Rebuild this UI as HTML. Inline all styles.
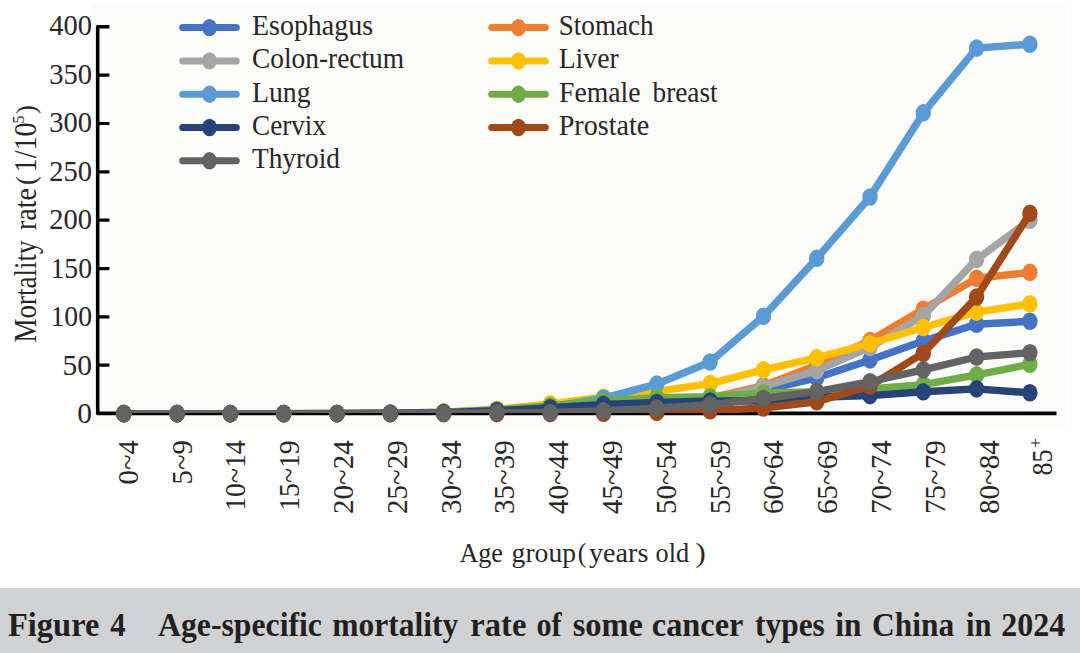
<!DOCTYPE html>
<html><head><meta charset="utf-8"><style>
html,body{margin:0;padding:0;background:#fff;width:1080px;height:653px;overflow:hidden}
svg{display:block}
text{font-family:"Liberation Serif",serif;fill:#2a2627}
</style></head><body>
<svg width="1080" height="653" viewBox="0 0 1080 653">
<rect x="0" y="0" width="1080" height="653" fill="#ffffff"/>
<rect x="91.3" y="4" width="973.7" height="426.7" fill="#fcfcfb"/>
<rect x="0" y="588" width="1080" height="65" fill="#d1d2d4"/>
<clipPath id="pc"><rect x="0" y="0" width="1080" height="413"/></clipPath>
<path d="M109.4 26.8 H97.7 V413.4 H1056.5" fill="none" stroke="#000" stroke-width="3.6" stroke-linejoin="round"/>
<path d="M97.7 365.2 H109.4 M97.7 316.9 H109.4 M97.7 268.6 H109.4 M97.7 220.2 H109.4 M97.7 171.9 H109.4 M97.7 123.5 H109.4 M97.7 75.2 H109.4 " stroke="#000" stroke-width="3.2"/>
<text x="92" y="423.2" font-size="29.5" text-anchor="end">0</text>
<text x="92" y="374.7" font-size="29.5" text-anchor="end">50</text>
<text x="92" y="326.1" font-size="29.5" text-anchor="end" textLength="41.5" lengthAdjust="spacingAndGlyphs">100</text>
<text x="92" y="277.6" font-size="29.5" text-anchor="end" textLength="41.5" lengthAdjust="spacingAndGlyphs">150</text>
<text x="92" y="229.1" font-size="29.5" text-anchor="end" textLength="42.8" lengthAdjust="spacingAndGlyphs">200</text>
<text x="92" y="180.6" font-size="29.5" text-anchor="end" textLength="42.8" lengthAdjust="spacingAndGlyphs">250</text>
<text x="92" y="132.0" font-size="29.5" text-anchor="end" textLength="42.8" lengthAdjust="spacingAndGlyphs">300</text>
<text x="92" y="83.5" font-size="29.5" text-anchor="end" textLength="42.8" lengthAdjust="spacingAndGlyphs">350</text>
<text x="92" y="35.0" font-size="29.5" text-anchor="end" textLength="42.8" lengthAdjust="spacingAndGlyphs">400</text>
<text transform="translate(35.9 342.4) rotate(-90)" font-size="30.5" textLength="102.0" lengthAdjust="spacingAndGlyphs">Mortality</text>
<text transform="translate(35.9 230.0) rotate(-90)" font-size="30.5" textLength="42.0" lengthAdjust="spacingAndGlyphs">rate</text>
<text transform="translate(34.6 185.0) rotate(-90)" font-size="27">(</text>
<text transform="translate(36.3 172.4) rotate(-90)" font-size="31" textLength="50.0" lengthAdjust="spacingAndGlyphs">1/10</text>
<text transform="translate(23.8 123.5) rotate(-90)" font-size="16">5</text>
<text transform="translate(34.6 114.1) rotate(-90)" font-size="27">)</text>
<text transform="translate(137.8 440.3) rotate(-90)" font-size="30" text-anchor="end" textLength="44.1" lengthAdjust="spacingAndGlyphs">0~4</text>
<text transform="translate(191.6 440.3) rotate(-90)" font-size="30" text-anchor="end" textLength="44.1" lengthAdjust="spacingAndGlyphs">5~9</text>
<text transform="translate(245.4 440.3) rotate(-90)" font-size="30" text-anchor="end" textLength="70.5" lengthAdjust="spacingAndGlyphs">10~14</text>
<text transform="translate(299.2 440.3) rotate(-90)" font-size="30" text-anchor="end" textLength="70.5" lengthAdjust="spacingAndGlyphs">15~19</text>
<text transform="translate(353.0 440.3) rotate(-90)" font-size="30" text-anchor="end" textLength="73.6" lengthAdjust="spacingAndGlyphs">20~24</text>
<text transform="translate(406.8 440.3) rotate(-90)" font-size="30" text-anchor="end" textLength="73.6" lengthAdjust="spacingAndGlyphs">25~29</text>
<text transform="translate(460.6 440.3) rotate(-90)" font-size="30" text-anchor="end" textLength="73.6" lengthAdjust="spacingAndGlyphs">30~34</text>
<text transform="translate(514.4 440.3) rotate(-90)" font-size="30" text-anchor="end" textLength="73.6" lengthAdjust="spacingAndGlyphs">35~39</text>
<text transform="translate(568.2 440.3) rotate(-90)" font-size="30" text-anchor="end" textLength="73.6" lengthAdjust="spacingAndGlyphs">40~44</text>
<text transform="translate(622.0 440.3) rotate(-90)" font-size="30" text-anchor="end" textLength="73.6" lengthAdjust="spacingAndGlyphs">45~49</text>
<text transform="translate(675.8 440.3) rotate(-90)" font-size="30" text-anchor="end" textLength="73.6" lengthAdjust="spacingAndGlyphs">50~54</text>
<text transform="translate(729.6 440.3) rotate(-90)" font-size="30" text-anchor="end" textLength="73.6" lengthAdjust="spacingAndGlyphs">55~59</text>
<text transform="translate(783.4 440.3) rotate(-90)" font-size="30" text-anchor="end" textLength="73.6" lengthAdjust="spacingAndGlyphs">60~64</text>
<text transform="translate(837.2 440.3) rotate(-90)" font-size="30" text-anchor="end" textLength="73.6" lengthAdjust="spacingAndGlyphs">65~69</text>
<text transform="translate(891.0 440.3) rotate(-90)" font-size="30" text-anchor="end" textLength="73.6" lengthAdjust="spacingAndGlyphs">70~74</text>
<text transform="translate(944.8 440.3) rotate(-90)" font-size="30" text-anchor="end" textLength="73.6" lengthAdjust="spacingAndGlyphs">75~79</text>
<text transform="translate(998.6 440.3) rotate(-90)" font-size="30" text-anchor="end" textLength="73.6" lengthAdjust="spacingAndGlyphs">80~84</text>
<text transform="translate(1052.4 475.5) rotate(-90)" font-size="29" textLength="26" lengthAdjust="spacingAndGlyphs">85</text>
<text transform="translate(1042.4 448) rotate(-90)" font-size="18">+</text>
<text x="459.4" y="561.5" font-size="27.5" textLength="43.6" lengthAdjust="spacingAndGlyphs">Age</text>
<text x="511.6" y="561.5" font-size="27.5" textLength="64.4" lengthAdjust="spacingAndGlyphs">group</text>
<text x="577.8" y="561.5" font-size="27.5" textLength="8.5" lengthAdjust="spacingAndGlyphs">(</text>
<text x="589.0" y="561.5" font-size="27.5" textLength="59.4" lengthAdjust="spacingAndGlyphs">years</text>
<text x="655.5" y="561.5" font-size="27.5" textLength="33.6" lengthAdjust="spacingAndGlyphs">old</text>
<text x="695.6" y="561.5" font-size="27.5" textLength="10.3" lengthAdjust="spacingAndGlyphs">)</text>
<polyline points="123.8,413.6 177.1,413.6 230.4,413.6 283.7,413.6 337.0,413.6 390.3,413.6 443.6,413.4 496.9,413.1 550.2,412.1 603.5,409.7 656.8,405.9 710.1,402.0 763.4,390.4 816.7,377.8 870.0,359.9 923.3,341.1 976.6,324.2 1029.9,321.3" fill="none" stroke="#4472C4" stroke-width="7.4" stroke-linejoin="round" stroke-linecap="round" clip-path="url(#pc)"/>
<ellipse cx="123.8" cy="413.6" rx="7.7" ry="8.8" fill="#4472C4"/><ellipse cx="177.1" cy="413.6" rx="7.7" ry="8.8" fill="#4472C4"/><ellipse cx="230.4" cy="413.6" rx="7.7" ry="8.8" fill="#4472C4"/><ellipse cx="283.7" cy="413.6" rx="7.7" ry="8.8" fill="#4472C4"/><ellipse cx="337.0" cy="413.6" rx="7.7" ry="8.8" fill="#4472C4"/><ellipse cx="390.3" cy="413.6" rx="7.7" ry="8.8" fill="#4472C4"/><ellipse cx="443.6" cy="413.4" rx="7.7" ry="8.8" fill="#4472C4"/><ellipse cx="496.9" cy="413.1" rx="7.7" ry="8.8" fill="#4472C4"/><ellipse cx="550.2" cy="412.1" rx="7.7" ry="8.8" fill="#4472C4"/><ellipse cx="603.5" cy="409.7" rx="7.7" ry="8.8" fill="#4472C4"/><ellipse cx="656.8" cy="405.9" rx="7.7" ry="8.8" fill="#4472C4"/><ellipse cx="710.1" cy="402.0" rx="7.7" ry="8.8" fill="#4472C4"/><ellipse cx="763.4" cy="390.4" rx="7.7" ry="8.8" fill="#4472C4"/><ellipse cx="816.7" cy="377.8" rx="7.7" ry="8.8" fill="#4472C4"/><ellipse cx="870.0" cy="359.9" rx="7.7" ry="8.8" fill="#4472C4"/><ellipse cx="923.3" cy="341.1" rx="7.7" ry="8.8" fill="#4472C4"/><ellipse cx="976.6" cy="324.2" rx="7.7" ry="8.8" fill="#4472C4"/><ellipse cx="1029.9" cy="321.3" rx="7.7" ry="8.8" fill="#4472C4"/>
<polyline points="123.8,413.6 177.1,413.6 230.4,413.6 283.7,413.6 337.0,413.5 390.3,413.1 443.6,412.6 496.9,411.7 550.2,409.7 603.5,406.8 656.8,403.0 710.1,398.1 763.4,385.6 816.7,365.2 870.0,340.6 923.3,309.2 976.6,278.2 1029.9,272.4" fill="none" stroke="#ED7D31" stroke-width="7.4" stroke-linejoin="round" stroke-linecap="round" clip-path="url(#pc)"/>
<ellipse cx="123.8" cy="413.6" rx="7.7" ry="8.8" fill="#ED7D31"/><ellipse cx="177.1" cy="413.6" rx="7.7" ry="8.8" fill="#ED7D31"/><ellipse cx="230.4" cy="413.6" rx="7.7" ry="8.8" fill="#ED7D31"/><ellipse cx="283.7" cy="413.6" rx="7.7" ry="8.8" fill="#ED7D31"/><ellipse cx="337.0" cy="413.5" rx="7.7" ry="8.8" fill="#ED7D31"/><ellipse cx="390.3" cy="413.1" rx="7.7" ry="8.8" fill="#ED7D31"/><ellipse cx="443.6" cy="412.6" rx="7.7" ry="8.8" fill="#ED7D31"/><ellipse cx="496.9" cy="411.7" rx="7.7" ry="8.8" fill="#ED7D31"/><ellipse cx="550.2" cy="409.7" rx="7.7" ry="8.8" fill="#ED7D31"/><ellipse cx="603.5" cy="406.8" rx="7.7" ry="8.8" fill="#ED7D31"/><ellipse cx="656.8" cy="403.0" rx="7.7" ry="8.8" fill="#ED7D31"/><ellipse cx="710.1" cy="398.1" rx="7.7" ry="8.8" fill="#ED7D31"/><ellipse cx="763.4" cy="385.6" rx="7.7" ry="8.8" fill="#ED7D31"/><ellipse cx="816.7" cy="365.2" rx="7.7" ry="8.8" fill="#ED7D31"/><ellipse cx="870.0" cy="340.6" rx="7.7" ry="8.8" fill="#ED7D31"/><ellipse cx="923.3" cy="309.2" rx="7.7" ry="8.8" fill="#ED7D31"/><ellipse cx="976.6" cy="278.2" rx="7.7" ry="8.8" fill="#ED7D31"/><ellipse cx="1029.9" cy="272.4" rx="7.7" ry="8.8" fill="#ED7D31"/>
<polyline points="123.8,413.6 177.1,413.6 230.4,413.6 283.7,413.6 337.0,413.5 390.3,413.2 443.6,412.6 496.9,411.7 550.2,410.2 603.5,407.8 656.8,404.9 710.1,400.1 763.4,386.5 816.7,370.6 870.0,347.4 923.3,315.9 976.6,259.4 1029.9,220.2" fill="none" stroke="#A5A5A5" stroke-width="7.4" stroke-linejoin="round" stroke-linecap="round" clip-path="url(#pc)"/>
<ellipse cx="123.8" cy="413.6" rx="7.7" ry="8.8" fill="#A5A5A5"/><ellipse cx="177.1" cy="413.6" rx="7.7" ry="8.8" fill="#A5A5A5"/><ellipse cx="230.4" cy="413.6" rx="7.7" ry="8.8" fill="#A5A5A5"/><ellipse cx="283.7" cy="413.6" rx="7.7" ry="8.8" fill="#A5A5A5"/><ellipse cx="337.0" cy="413.5" rx="7.7" ry="8.8" fill="#A5A5A5"/><ellipse cx="390.3" cy="413.2" rx="7.7" ry="8.8" fill="#A5A5A5"/><ellipse cx="443.6" cy="412.6" rx="7.7" ry="8.8" fill="#A5A5A5"/><ellipse cx="496.9" cy="411.7" rx="7.7" ry="8.8" fill="#A5A5A5"/><ellipse cx="550.2" cy="410.2" rx="7.7" ry="8.8" fill="#A5A5A5"/><ellipse cx="603.5" cy="407.8" rx="7.7" ry="8.8" fill="#A5A5A5"/><ellipse cx="656.8" cy="404.9" rx="7.7" ry="8.8" fill="#A5A5A5"/><ellipse cx="710.1" cy="400.1" rx="7.7" ry="8.8" fill="#A5A5A5"/><ellipse cx="763.4" cy="386.5" rx="7.7" ry="8.8" fill="#A5A5A5"/><ellipse cx="816.7" cy="370.6" rx="7.7" ry="8.8" fill="#A5A5A5"/><ellipse cx="870.0" cy="347.4" rx="7.7" ry="8.8" fill="#A5A5A5"/><ellipse cx="923.3" cy="315.9" rx="7.7" ry="8.8" fill="#A5A5A5"/><ellipse cx="976.6" cy="259.4" rx="7.7" ry="8.8" fill="#A5A5A5"/><ellipse cx="1029.9" cy="220.2" rx="7.7" ry="8.8" fill="#A5A5A5"/>
<polyline points="123.8,413.6 177.1,413.6 230.4,413.6 283.7,413.6 337.0,413.5 390.3,413.2 443.6,412.1 496.9,409.5 550.2,403.9 603.5,397.2 656.8,391.4 710.1,383.6 763.4,369.9 816.7,357.9 870.0,343.5 923.3,327.5 976.6,312.1 1029.9,303.8" fill="none" stroke="#FFC000" stroke-width="7.4" stroke-linejoin="round" stroke-linecap="round" clip-path="url(#pc)"/>
<ellipse cx="123.8" cy="413.6" rx="7.7" ry="8.8" fill="#FFC000"/><ellipse cx="177.1" cy="413.6" rx="7.7" ry="8.8" fill="#FFC000"/><ellipse cx="230.4" cy="413.6" rx="7.7" ry="8.8" fill="#FFC000"/><ellipse cx="283.7" cy="413.6" rx="7.7" ry="8.8" fill="#FFC000"/><ellipse cx="337.0" cy="413.5" rx="7.7" ry="8.8" fill="#FFC000"/><ellipse cx="390.3" cy="413.2" rx="7.7" ry="8.8" fill="#FFC000"/><ellipse cx="443.6" cy="412.1" rx="7.7" ry="8.8" fill="#FFC000"/><ellipse cx="496.9" cy="409.5" rx="7.7" ry="8.8" fill="#FFC000"/><ellipse cx="550.2" cy="403.9" rx="7.7" ry="8.8" fill="#FFC000"/><ellipse cx="603.5" cy="397.2" rx="7.7" ry="8.8" fill="#FFC000"/><ellipse cx="656.8" cy="391.4" rx="7.7" ry="8.8" fill="#FFC000"/><ellipse cx="710.1" cy="383.6" rx="7.7" ry="8.8" fill="#FFC000"/><ellipse cx="763.4" cy="369.9" rx="7.7" ry="8.8" fill="#FFC000"/><ellipse cx="816.7" cy="357.9" rx="7.7" ry="8.8" fill="#FFC000"/><ellipse cx="870.0" cy="343.5" rx="7.7" ry="8.8" fill="#FFC000"/><ellipse cx="923.3" cy="327.5" rx="7.7" ry="8.8" fill="#FFC000"/><ellipse cx="976.6" cy="312.1" rx="7.7" ry="8.8" fill="#FFC000"/><ellipse cx="1029.9" cy="303.8" rx="7.7" ry="8.8" fill="#FFC000"/>
<polyline points="123.8,413.6 177.1,413.6 230.4,413.6 283.7,413.6 337.0,413.5 390.3,413.3 443.6,412.6 496.9,410.7 550.2,406.8 603.5,398.1 656.8,384.1 710.1,362.0 763.4,316.4 816.7,258.4 870.0,197.0 923.3,112.9 976.6,48.1 1029.9,44.2" fill="none" stroke="#5B9BD5" stroke-width="7.4" stroke-linejoin="round" stroke-linecap="round" clip-path="url(#pc)"/>
<ellipse cx="123.8" cy="413.6" rx="7.7" ry="8.8" fill="#5B9BD5"/><ellipse cx="177.1" cy="413.6" rx="7.7" ry="8.8" fill="#5B9BD5"/><ellipse cx="230.4" cy="413.6" rx="7.7" ry="8.8" fill="#5B9BD5"/><ellipse cx="283.7" cy="413.6" rx="7.7" ry="8.8" fill="#5B9BD5"/><ellipse cx="337.0" cy="413.5" rx="7.7" ry="8.8" fill="#5B9BD5"/><ellipse cx="390.3" cy="413.3" rx="7.7" ry="8.8" fill="#5B9BD5"/><ellipse cx="443.6" cy="412.6" rx="7.7" ry="8.8" fill="#5B9BD5"/><ellipse cx="496.9" cy="410.7" rx="7.7" ry="8.8" fill="#5B9BD5"/><ellipse cx="550.2" cy="406.8" rx="7.7" ry="8.8" fill="#5B9BD5"/><ellipse cx="603.5" cy="398.1" rx="7.7" ry="8.8" fill="#5B9BD5"/><ellipse cx="656.8" cy="384.1" rx="7.7" ry="8.8" fill="#5B9BD5"/><ellipse cx="710.1" cy="362.0" rx="7.7" ry="8.8" fill="#5B9BD5"/><ellipse cx="763.4" cy="316.4" rx="7.7" ry="8.8" fill="#5B9BD5"/><ellipse cx="816.7" cy="258.4" rx="7.7" ry="8.8" fill="#5B9BD5"/><ellipse cx="870.0" cy="197.0" rx="7.7" ry="8.8" fill="#5B9BD5"/><ellipse cx="923.3" cy="112.9" rx="7.7" ry="8.8" fill="#5B9BD5"/><ellipse cx="976.6" cy="48.1" rx="7.7" ry="8.8" fill="#5B9BD5"/><ellipse cx="1029.9" cy="44.2" rx="7.7" ry="8.8" fill="#5B9BD5"/>
<polyline points="123.8,413.6 177.1,413.6 230.4,413.6 283.7,413.6 337.0,413.5 390.3,413.1 443.6,412.1 496.9,409.7 550.2,405.9 603.5,401.0 656.8,397.6 710.1,396.7 763.4,393.0 816.7,391.8 870.0,388.9 923.3,384.6 976.6,374.9 1029.9,364.3" fill="none" stroke="#70AD47" stroke-width="7.4" stroke-linejoin="round" stroke-linecap="round" clip-path="url(#pc)"/>
<ellipse cx="123.8" cy="413.6" rx="7.7" ry="8.8" fill="#70AD47"/><ellipse cx="177.1" cy="413.6" rx="7.7" ry="8.8" fill="#70AD47"/><ellipse cx="230.4" cy="413.6" rx="7.7" ry="8.8" fill="#70AD47"/><ellipse cx="283.7" cy="413.6" rx="7.7" ry="8.8" fill="#70AD47"/><ellipse cx="337.0" cy="413.5" rx="7.7" ry="8.8" fill="#70AD47"/><ellipse cx="390.3" cy="413.1" rx="7.7" ry="8.8" fill="#70AD47"/><ellipse cx="443.6" cy="412.1" rx="7.7" ry="8.8" fill="#70AD47"/><ellipse cx="496.9" cy="409.7" rx="7.7" ry="8.8" fill="#70AD47"/><ellipse cx="550.2" cy="405.9" rx="7.7" ry="8.8" fill="#70AD47"/><ellipse cx="603.5" cy="401.0" rx="7.7" ry="8.8" fill="#70AD47"/><ellipse cx="656.8" cy="397.6" rx="7.7" ry="8.8" fill="#70AD47"/><ellipse cx="710.1" cy="396.7" rx="7.7" ry="8.8" fill="#70AD47"/><ellipse cx="763.4" cy="393.0" rx="7.7" ry="8.8" fill="#70AD47"/><ellipse cx="816.7" cy="391.8" rx="7.7" ry="8.8" fill="#70AD47"/><ellipse cx="870.0" cy="388.9" rx="7.7" ry="8.8" fill="#70AD47"/><ellipse cx="923.3" cy="384.6" rx="7.7" ry="8.8" fill="#70AD47"/><ellipse cx="976.6" cy="374.9" rx="7.7" ry="8.8" fill="#70AD47"/><ellipse cx="1029.9" cy="364.3" rx="7.7" ry="8.8" fill="#70AD47"/>
<polyline points="123.8,413.6 177.1,413.6 230.4,413.6 283.7,413.6 337.0,413.6 390.3,413.3 443.6,412.6 496.9,410.7 550.2,407.8 603.5,404.4 656.8,402.5 710.1,401.0 763.4,401.0 816.7,397.2 870.0,395.6 923.3,391.8 976.6,388.9 1029.9,392.8" fill="none" stroke="#264478" stroke-width="7.4" stroke-linejoin="round" stroke-linecap="round" clip-path="url(#pc)"/>
<ellipse cx="123.8" cy="413.6" rx="7.7" ry="8.8" fill="#264478"/><ellipse cx="177.1" cy="413.6" rx="7.7" ry="8.8" fill="#264478"/><ellipse cx="230.4" cy="413.6" rx="7.7" ry="8.8" fill="#264478"/><ellipse cx="283.7" cy="413.6" rx="7.7" ry="8.8" fill="#264478"/><ellipse cx="337.0" cy="413.6" rx="7.7" ry="8.8" fill="#264478"/><ellipse cx="390.3" cy="413.3" rx="7.7" ry="8.8" fill="#264478"/><ellipse cx="443.6" cy="412.6" rx="7.7" ry="8.8" fill="#264478"/><ellipse cx="496.9" cy="410.7" rx="7.7" ry="8.8" fill="#264478"/><ellipse cx="550.2" cy="407.8" rx="7.7" ry="8.8" fill="#264478"/><ellipse cx="603.5" cy="404.4" rx="7.7" ry="8.8" fill="#264478"/><ellipse cx="656.8" cy="402.5" rx="7.7" ry="8.8" fill="#264478"/><ellipse cx="710.1" cy="401.0" rx="7.7" ry="8.8" fill="#264478"/><ellipse cx="763.4" cy="401.0" rx="7.7" ry="8.8" fill="#264478"/><ellipse cx="816.7" cy="397.2" rx="7.7" ry="8.8" fill="#264478"/><ellipse cx="870.0" cy="395.6" rx="7.7" ry="8.8" fill="#264478"/><ellipse cx="923.3" cy="391.8" rx="7.7" ry="8.8" fill="#264478"/><ellipse cx="976.6" cy="388.9" rx="7.7" ry="8.8" fill="#264478"/><ellipse cx="1029.9" cy="392.8" rx="7.7" ry="8.8" fill="#264478"/>
<polyline points="123.8,413.6 177.1,413.6 230.4,413.6 283.7,413.6 337.0,413.6 390.3,413.6 443.6,413.6 496.9,413.6 550.2,413.6 603.5,413.3 656.8,412.4 710.1,410.7 763.4,408.0 816.7,401.8 870.0,386.0 923.3,353.2 976.6,297.1 1029.9,213.4" fill="none" stroke="#A04A1C" stroke-width="7.4" stroke-linejoin="round" stroke-linecap="round" clip-path="url(#pc)"/>
<ellipse cx="123.8" cy="413.6" rx="7.7" ry="8.8" fill="#A04A1C"/><ellipse cx="177.1" cy="413.6" rx="7.7" ry="8.8" fill="#A04A1C"/><ellipse cx="230.4" cy="413.6" rx="7.7" ry="8.8" fill="#A04A1C"/><ellipse cx="283.7" cy="413.6" rx="7.7" ry="8.8" fill="#A04A1C"/><ellipse cx="337.0" cy="413.6" rx="7.7" ry="8.8" fill="#A04A1C"/><ellipse cx="390.3" cy="413.6" rx="7.7" ry="8.8" fill="#A04A1C"/><ellipse cx="443.6" cy="413.6" rx="7.7" ry="8.8" fill="#A04A1C"/><ellipse cx="496.9" cy="413.6" rx="7.7" ry="8.8" fill="#A04A1C"/><ellipse cx="550.2" cy="413.6" rx="7.7" ry="8.8" fill="#A04A1C"/><ellipse cx="603.5" cy="413.3" rx="7.7" ry="8.8" fill="#A04A1C"/><ellipse cx="656.8" cy="412.4" rx="7.7" ry="8.8" fill="#A04A1C"/><ellipse cx="710.1" cy="410.7" rx="7.7" ry="8.8" fill="#A04A1C"/><ellipse cx="763.4" cy="408.0" rx="7.7" ry="8.8" fill="#A04A1C"/><ellipse cx="816.7" cy="401.8" rx="7.7" ry="8.8" fill="#A04A1C"/><ellipse cx="870.0" cy="386.0" rx="7.7" ry="8.8" fill="#A04A1C"/><ellipse cx="923.3" cy="353.2" rx="7.7" ry="8.8" fill="#A04A1C"/><ellipse cx="976.6" cy="297.1" rx="7.7" ry="8.8" fill="#A04A1C"/><ellipse cx="1029.9" cy="213.4" rx="7.7" ry="8.8" fill="#A04A1C"/>
<polyline points="123.8,413.6 177.1,413.6 230.4,413.6 283.7,413.6 337.0,413.6 390.3,413.5 443.6,413.3 496.9,412.6 550.2,412.6 603.5,410.7 656.8,408.1 710.1,404.8 763.4,398.5 816.7,391.6 870.0,381.7 923.3,369.9 976.6,357.0 1029.9,352.7" fill="none" stroke="#636363" stroke-width="7.4" stroke-linejoin="round" stroke-linecap="round" clip-path="url(#pc)"/>
<ellipse cx="123.8" cy="413.6" rx="7.7" ry="8.8" fill="#636363"/><ellipse cx="177.1" cy="413.6" rx="7.7" ry="8.8" fill="#636363"/><ellipse cx="230.4" cy="413.6" rx="7.7" ry="8.8" fill="#636363"/><ellipse cx="283.7" cy="413.6" rx="7.7" ry="8.8" fill="#636363"/><ellipse cx="337.0" cy="413.6" rx="7.7" ry="8.8" fill="#636363"/><ellipse cx="390.3" cy="413.5" rx="7.7" ry="8.8" fill="#636363"/><ellipse cx="443.6" cy="413.3" rx="7.7" ry="8.8" fill="#636363"/><ellipse cx="496.9" cy="412.6" rx="7.7" ry="8.8" fill="#636363"/><ellipse cx="550.2" cy="412.6" rx="7.7" ry="8.8" fill="#636363"/><ellipse cx="603.5" cy="410.7" rx="7.7" ry="8.8" fill="#636363"/><ellipse cx="656.8" cy="408.1" rx="7.7" ry="8.8" fill="#636363"/><ellipse cx="710.1" cy="404.8" rx="7.7" ry="8.8" fill="#636363"/><ellipse cx="763.4" cy="398.5" rx="7.7" ry="8.8" fill="#636363"/><ellipse cx="816.7" cy="391.6" rx="7.7" ry="8.8" fill="#636363"/><ellipse cx="870.0" cy="381.7" rx="7.7" ry="8.8" fill="#636363"/><ellipse cx="923.3" cy="369.9" rx="7.7" ry="8.8" fill="#636363"/><ellipse cx="976.6" cy="357.0" rx="7.7" ry="8.8" fill="#636363"/><ellipse cx="1029.9" cy="352.7" rx="7.7" ry="8.8" fill="#636363"/>
<path d="M182.7 27.6 H236.3" stroke="#4472C4" stroke-width="7" stroke-linecap="round"/>
<ellipse cx="209.5" cy="27.6" rx="7.4" ry="8.7" fill="#4472C4"/>
<text x="252.0" y="35.0" font-size="29.5" textLength="121.0" lengthAdjust="spacingAndGlyphs">Esophagus</text>
<path d="M491.7 27.6 H545.3" stroke="#ED7D31" stroke-width="7" stroke-linecap="round"/>
<ellipse cx="518.5" cy="27.6" rx="7.4" ry="8.7" fill="#ED7D31"/>
<text x="558.7" y="35.0" font-size="29.5" textLength="95.0" lengthAdjust="spacingAndGlyphs">Stomach</text>
<path d="M182.7 60.9 H236.3" stroke="#A5A5A5" stroke-width="7" stroke-linecap="round"/>
<ellipse cx="209.5" cy="60.9" rx="7.4" ry="8.7" fill="#A5A5A5"/>
<text x="252.0" y="68.3" font-size="29.5" textLength="152.0" lengthAdjust="spacingAndGlyphs">Colon-rectum</text>
<path d="M491.7 60.9 H545.3" stroke="#FFC000" stroke-width="7" stroke-linecap="round"/>
<ellipse cx="518.5" cy="60.9" rx="7.4" ry="8.7" fill="#FFC000"/>
<text x="558.7" y="68.3" font-size="29.5" textLength="60.0" lengthAdjust="spacingAndGlyphs">Liver</text>
<path d="M182.7 94.2 H236.3" stroke="#5B9BD5" stroke-width="7" stroke-linecap="round"/>
<ellipse cx="209.5" cy="94.2" rx="7.4" ry="8.7" fill="#5B9BD5"/>
<text x="252.0" y="101.6" font-size="29.5" textLength="58.5" lengthAdjust="spacingAndGlyphs">Lung</text>
<path d="M491.7 94.2 H545.3" stroke="#70AD47" stroke-width="7" stroke-linecap="round"/>
<ellipse cx="518.5" cy="94.2" rx="7.4" ry="8.7" fill="#70AD47"/>
<text x="559.0" y="101.6" font-size="29.5" textLength="81.5" lengthAdjust="spacingAndGlyphs">Female</text>
<text x="652.5" y="101.6" font-size="29.5" textLength="65.2" lengthAdjust="spacingAndGlyphs">breast</text>
<path d="M182.7 127.5 H236.3" stroke="#264478" stroke-width="7" stroke-linecap="round"/>
<ellipse cx="209.5" cy="127.5" rx="7.4" ry="8.7" fill="#264478"/>
<text x="252.0" y="134.9" font-size="29.5" textLength="74.0" lengthAdjust="spacingAndGlyphs">Cervix</text>
<path d="M491.7 127.5 H545.3" stroke="#A04A1C" stroke-width="7" stroke-linecap="round"/>
<ellipse cx="518.5" cy="127.5" rx="7.4" ry="8.7" fill="#A04A1C"/>
<text x="558.7" y="134.9" font-size="29.5" textLength="90.5" lengthAdjust="spacingAndGlyphs">Prostate</text>
<path d="M182.7 160.8 H236.3" stroke="#636363" stroke-width="7" stroke-linecap="round"/>
<ellipse cx="209.5" cy="160.8" rx="7.4" ry="8.7" fill="#636363"/>
<text x="252.0" y="168.2" font-size="29.5" textLength="88.0" lengthAdjust="spacingAndGlyphs">Thyroid</text>
<text x="8.0" y="635.8" font-size="33" font-weight="bold" style="fill:#231f20" textLength="91.4" lengthAdjust="spacingAndGlyphs">Figure</text>
<text x="110.2" y="635.8" font-size="33" font-weight="bold" style="fill:#231f20" textLength="15.3" lengthAdjust="spacingAndGlyphs">4</text>
<text x="158.1" y="635.8" font-size="33" font-weight="bold" style="fill:#231f20" textLength="163.8" lengthAdjust="spacingAndGlyphs">Age-specific</text>
<text x="332.2" y="635.8" font-size="33" font-weight="bold" style="fill:#231f20" textLength="126.1" lengthAdjust="spacingAndGlyphs">mortality</text>
<text x="470.3" y="635.8" font-size="33" font-weight="bold" style="fill:#231f20" textLength="56.2" lengthAdjust="spacingAndGlyphs">rate</text>
<text x="536.5" y="635.8" font-size="33" font-weight="bold" style="fill:#231f20" textLength="25.1" lengthAdjust="spacingAndGlyphs">of</text>
<text x="572.7" y="635.8" font-size="33" font-weight="bold" style="fill:#231f20" textLength="70.2" lengthAdjust="spacingAndGlyphs">some</text>
<text x="651.8" y="635.8" font-size="33" font-weight="bold" style="fill:#231f20" textLength="91.7" lengthAdjust="spacingAndGlyphs">cancer</text>
<text x="755.0" y="635.8" font-size="33" font-weight="bold" style="fill:#231f20" textLength="69.8" lengthAdjust="spacingAndGlyphs">types</text>
<text x="835.3" y="635.8" font-size="33" font-weight="bold" style="fill:#231f20" textLength="26.1" lengthAdjust="spacingAndGlyphs">in</text>
<text x="872.0" y="635.8" font-size="33" font-weight="bold" style="fill:#231f20" textLength="82.2" lengthAdjust="spacingAndGlyphs">China</text>
<text x="966.1" y="635.8" font-size="33" font-weight="bold" style="fill:#231f20" textLength="25.4" lengthAdjust="spacingAndGlyphs">in</text>
<text x="1001.2" y="635.8" font-size="33" font-weight="bold" style="fill:#231f20" textLength="64.0" lengthAdjust="spacingAndGlyphs">2024</text>
</svg></body></html>
